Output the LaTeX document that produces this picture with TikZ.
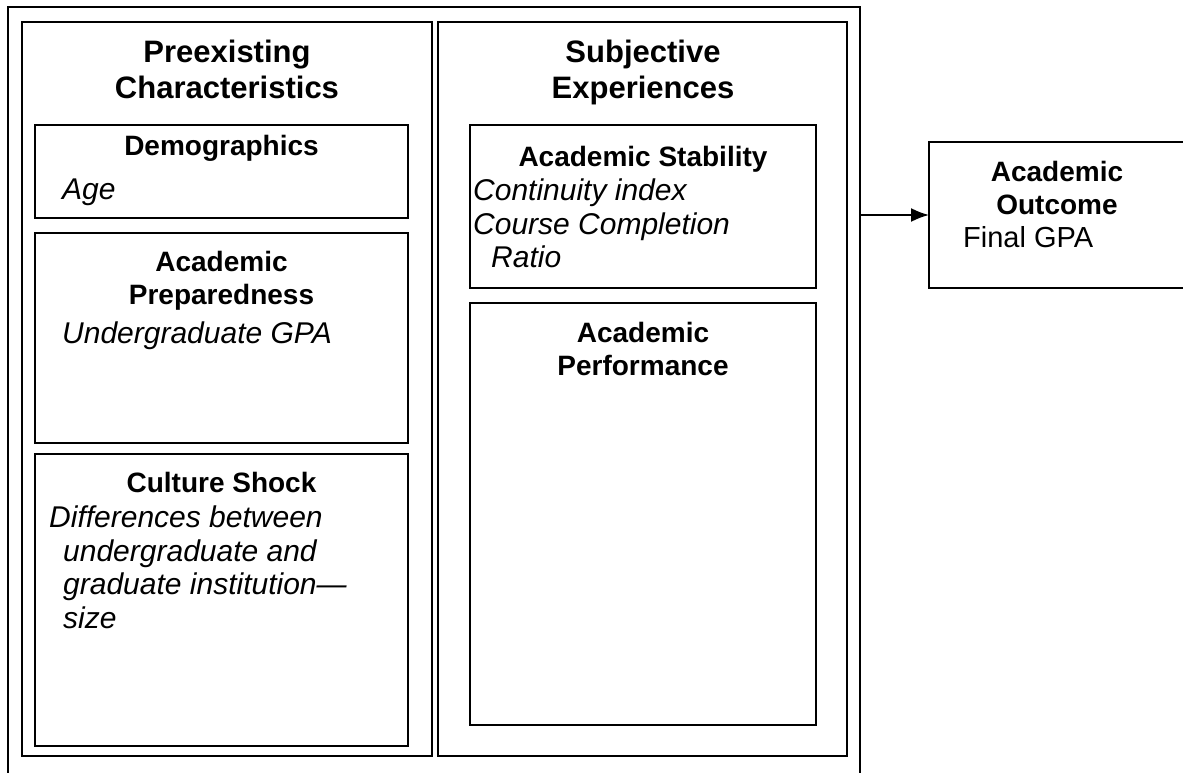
\documentclass[tikz,border=0pt]{standalone}
\usepackage{fontspec}
\setmainfont{Liberation Sans}
\usetikzlibrary{arrows.meta}
\begin{document}
\begin{tikzpicture}[x=1pt,y=-1pt,
  box/.style={draw, line width=1.8pt, inner sep=0pt, outer sep=0pt, anchor=north west},
  frame/.style={draw=none, inner sep=0pt, outer sep=0pt, anchor=north west},
  edge/.style={line width=1.8pt},
  title/.style={inner sep=0pt, anchor=north, align=center,
    font=\fontsize{31}{36}\selectfont\bfseries},
  head/.style={inner sep=0pt, anchor=north, align=center,
    font=\fontsize{28}{33.5}\selectfont\bfseries},
  body/.style={inner sep=0pt, anchor=north west, align=left,
    font=\fontsize{30}{33.5}\selectfont\itshape},
  plain/.style={inner sep=0pt, anchor=north west, align=left,
    font=\fontsize{29}{33.5}\selectfont}]

\path[fill=white, use as bounding box] (0,0) rectangle (1183,773);

% outer frame, open at the bottom edge of the page
\node[frame, minimum width=852pt, minimum height=766pt] (outer) at (8,7) {};
\draw[edge] (outer.south west) -- (outer.north west) -- (outer.north east) -- (outer.south east);

% the two columns
\node[box, minimum width=410pt, minimum height=734pt] (pre) at (22,22) {};
\node[box, minimum width=409pt, minimum height=734pt] (subj) at (438,22) {};

\node[title] (preT) at (227,40) {Preexisting\\Characteristics};
\node[title] (subjT) at (643,40) {Subjective\\Experiences};

% left column boxes
\node[box, minimum width=373pt, minimum height=93pt] (demo) at (35,125) {};
\node[head] (demoH) at (221.5,135) {Demographics};
\node[body] (demoB) at (62,179) {Age};

\node[box, minimum width=373pt, minimum height=210pt] (prep) at (35,233) {};
\node[head] (prepH) at (221.5,251) {Academic\\Preparedness};
\node[body] (prepB) at (62,322) {Undergraduate GPA};

\node[box, minimum width=373pt, minimum height=292pt] (cult) at (35,454) {};
\node[head] (cultH) at (221.5,472) {Culture Shock};
\node[body] (cultB) at (49,506) {Differences between\\\hspace*{14pt}undergraduate and\\\hspace*{14pt}graduate institution---\\\hspace*{14pt}size};

% right column boxes
\node[box, minimum width=346pt, minimum height=163pt] (stab) at (470,125) {};
\node[head] (stabH) at (643,146) {Academic Stability};
\node[body] (stabB) at (473,179) {Continuity index\\Course Completion\\\hspace*{18pt}Ratio};

\node[box, minimum width=346pt, minimum height=422pt] (perf) at (470,303) {};
\node[head] (perfH) at (643,322) {Academic\\Performance};

% outcome box, running off the right edge of the page
\node[frame, minimum width=254pt, minimum height=146pt] (out) at (929,142) {};
\draw[edge] (out.north east) -- (out.north west) -- (out.south west) -- (out.south east);
\node[head] (outH) at (1057,161) {Academic\\Outcome};
\node[plain] (outB) at (963,226) {Final GPA};

% connector
\draw[edge, -{Latex[length=18pt,width=14pt]}] (outer.east |- out.west) -- (out.west);

\end{tikzpicture}
\end{document}
